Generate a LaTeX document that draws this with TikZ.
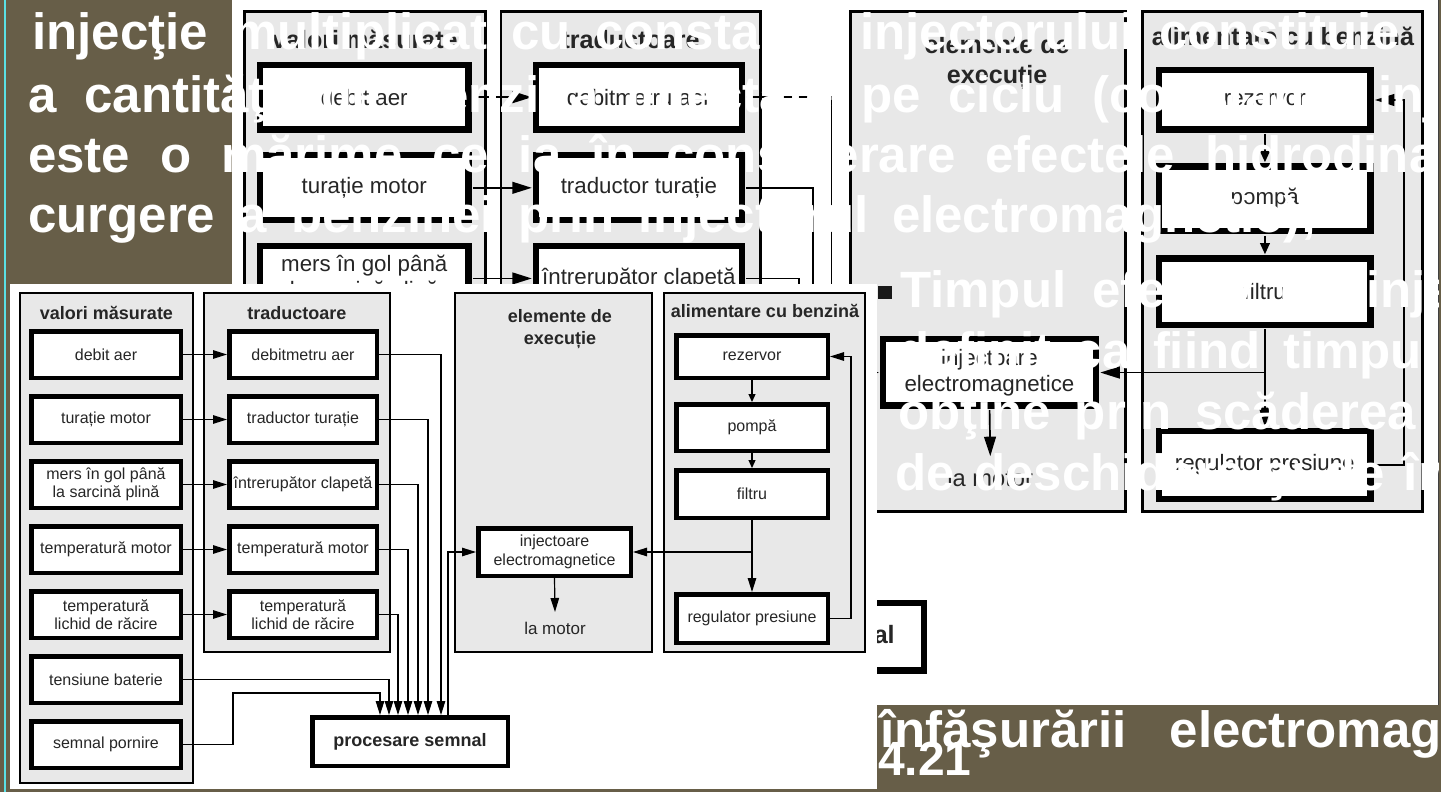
\documentclass[tikz,border=0pt]{standalone}
\usepackage{fontspec}
\setmainfont{Liberation Sans}
\usetikzlibrary{arrows.meta,calc}
\definecolor{slidebrown}{RGB}{103,94,72}
\definecolor{slidecyan}{RGB}{90,225,230}
\definecolor{panelgrey}{RGB}{232,232,232}

% #1 = name prefix, #2 = scale factor for line widths and arrow tips
\newcommand\fuelDiagram[2]{%
\pgfmathsetmacro\dgPanel{2*#2}%
\pgfmathsetmacro\dgBox{4.5*#2}%
\pgfmathsetmacro\dgLine{1.2*#2}%
\pgfmathsetmacro\dgAl{14*#2}%
\pgfmathsetmacro\dgAw{8.5*#2}%
\pgfmathsetmacro\dgSl{8*#2}%
\pgfmathsetmacro\dgSw{7*#2}%
\begin{scope}[
  panel/.style={draw=black, fill=panelgrey, line width=\dgPanel pt},
  dbox/.style={draw=black, fill=white, line width=\dgBox pt, inner sep=0pt, align=center,
               font=\fontsize{16}{18.5}\selectfont, text=black!85},
  dtitle/.style={inner sep=0pt, align=center, font=\bfseries\fontsize{18}{22}\selectfont, text=black!85},
  conn/.style={draw=black, line width=\dgLine pt},
  arr/.style={conn, -{Triangle[length=\dgAl pt, width=\dgAw pt]}},
  sarr/.style={conn, -{Triangle[length=\dgSl pt, width=\dgSw pt]}},
  vbox/.style={dbox, minimum width=149.5pt, minimum height=46.5pt},
  tbox/.style={dbox, minimum width=147.5pt, minimum height=46.5pt},
  abox/.style={dbox, minimum width=151.5pt}
]
% panels
\path[panel] (20,293) rectangle (193,783);
\path[panel] (204,293) rectangle (390,652);
\path[panel] (455,293) rectangle (652,652);
\path[panel] (664,293) rectangle (865,652);
% titles
\node[dtitle] (#1tv) at (106.5,313) {valori măsurate};
\node[dtitle] (#1tt) at (297,313) {traductoare};
\node[dtitle] (#1te) at (560,329.5) {elemente de\\execuție};
\node[dtitle] (#1ta) at (765,311) {alimentare cu benzină};
% measured values
\node[vbox] (#1v0) at (106,354.5) {debit aer};
\node[vbox] (#1v1) at (106,419.5) {turație motor};
\node[vbox] (#1v2) at (106,484.5) {mers în gol până\\la sarcină plină};
\node[vbox] (#1v3) at (106,549.5) {temperatură motor};
\node[vbox] (#1v4) at (106,614.5) {temperatură\\lichid de răcire};
\node[vbox] (#1v5) at (106,679.5) {tensiune baterie};
\node[vbox] (#1v6) at (106,744.5) {semnal pornire};
% transducers
\node[tbox] (#1t0) at (303,354.5) {debitmetru aer};
\node[tbox] (#1t1) at (303,419.5) {traductor turație};
\node[tbox] (#1t2) at (303,484.5) {întrerupător clapetă};
\node[tbox] (#1t3) at (303,549.5) {temperatură motor};
\node[tbox] (#1t4) at (303,614.5) {temperatură\\lichid de răcire};
% fuel supply
\node[abox, minimum height=42.5pt] (#1a0) at (752,356.5) {rezervor};
\node[abox, minimum height=46.5pt] (#1a1) at (752,427.5) {pompă};
\node[abox, minimum height=47.5pt] (#1a2) at (752,494) {filtru};
\node[abox, minimum height=48.5pt] (#1a3) at (752,618.5) {regulator presiune};
% actuators
\node[dbox, minimum width=152.5pt, minimum height=47.5pt] (#1inj) at (554.5,552) {injectoare\\electromagnetice};
\node[inner sep=0pt, font=\fontsize{17}{20}\selectfont, text=black!85] (#1lm) at (555,628) {la motor};
\coordinate (#1lmtip) at (555,612);
% signal processing
\node[dbox, minimum width=195.5pt, minimum height=48.5pt, font=\bfseries\fontsize{18}{22}\selectfont] (#1ps) at (410,741.5) {procesare semnal};
% input columns on processing box
\coordinate (#1x0) at (441,0);
\coordinate (#1x1) at (428,0);
\coordinate (#1x2) at (418,0);
\coordinate (#1x3) at (408,0);
\coordinate (#1x4) at (398,0);
\coordinate (#1x5) at (389,0);
\coordinate (#1x6) at (380,0);
\coordinate (#1x7) at (448,0);
% connectors
\foreach \i in {0,...,4} {
  \draw[arr] (#1v\i.east) -- (#1t\i.west);
  \draw[arr] (#1t\i.east) -| (#1ps.north -| #1x\i);
}
\draw[arr] (#1v5.east) -| (#1ps.north -| #1x5);
\draw[arr] (#1v6.east) -| (233,693) -| (#1ps.north -| #1x6);
\draw[arr] (#1ps.north -| #1x7) |- (#1inj.west);
\draw[arr] (#1inj.south) -- (#1lmtip);
\draw[sarr] (#1a0.south) -- (#1a1.north);
\draw[sarr] (#1a1.south) -- (#1a2.north);
\draw[arr] (#1a2.south) -- (#1a3.north);
\draw[arr] (#1a2.south |- #1inj.east) -- (#1inj.east);
\draw[arr] (#1a3.east) -- ++(21,0) |- (#1a0.east);
\end{scope}}

\begin{document}
\begin{tikzpicture}[x=1pt,y=-1pt]
\useasboundingbox (0,0) rectangle (1441,792);
% slide background
\fill[slidebrown] (0,0) rectangle (1441,792);
\fill[slidecyan] (3.8,0) rectangle (5.6,792);
% enlarged copy of the diagram (background picture)
\fill[white] (232,0) rectangle (1438,705);
\draw[line width=1pt, black!75] (1438.5,0) -- (1438.5,705);
\begin{scope}[shift={(216.514,-397.048)}, scale=1.394, transform shape]
  \fuelDiagram{L}{1.394}
\end{scope}
% bullet
\fill[black!90] (878,286) rectangle (892,299);
% white slide text
\begin{scope}[wt/.style={text=white, anchor=base west, inner sep=0pt, font=\bfseries\fontsize{51}{51}\selectfont}]
\clip (0,0) rectangle (1438,792);
\node[wt] (p1) at (32,50) {\makebox[1368pt][s]{injecţie multiplicat cu constanta injectorului constituie}};
\node[wt] (p2) at (28,112) {\makebox[1624.8pt][s]{a cantităţii de benzină injectate pe ciclu (constanta injectorului}};
\node[wt] (p3) at (28,172) {\makebox[1525.6pt][s]{este o mărime ce ia în considerare efectele hidrodinamice}};
\node[wt] (p4) at (28,232) {\makebox[1289pt][s]{curgere a benzinei prin injectorul electromagnetic);}};
\node[wt] (r1) at (900,307) {\makebox[641.7pt][s]{Timpul efectiv de injecţie}};
\node[wt] (r2) at (898,368) {\makebox[538pt][s]{definit ca fiind timpul}};
\node[wt] (r3) at (898,429) {\makebox[518pt][s]{obţine prin scăderea}};
\node[wt] (r4) at (895,490) {\makebox[735.5pt][s]{de deschidere şi de închidere}};
\node[wt] (b1) at (880,747) {\makebox[709pt][s]{înfăşurării electromagnetice}};
\node[wt, font=\bfseries\fontsize{48}{48}\selectfont] (b2) at (878,775) {4.21};
\end{scope}
% foreground copy of the diagram
\fill[white] (10,284) rectangle (877,789);
\fuelDiagram{F}{1}
\end{tikzpicture}
\end{document}
